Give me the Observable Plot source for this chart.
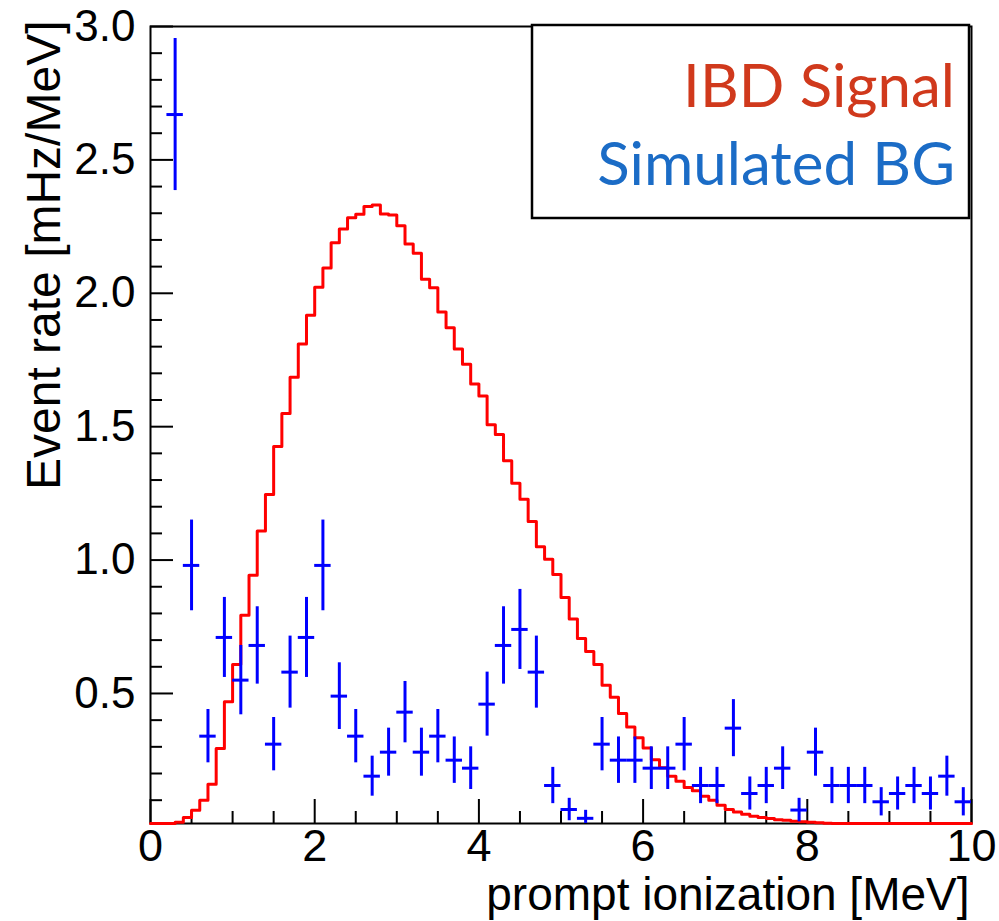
<!DOCTYPE html>
<html><head><meta charset="utf-8">
<script src="https://cdn.jsdelivr.net/npm/d3@7"></script>
<script src="https://cdn.jsdelivr.net/npm/@observablehq/plot@0.6"></script>
<style>
html,body{margin:0;padding:0;background:#fff;}
#chart{position:relative;width:999px;height:921px;}
</style></head><body><div id="chart"></div>
<script>
// ---- data ----
const signalBinWidth = 0.1; // MeV
const signalRate = [
  0.002, 0.004, 0.008, 0.017, 0.035, 0.062, 0.100, 0.160, 0.294, 0.469,
  0.609, 0.793, 0.943, 1.109, 1.246, 1.426, 1.549, 1.685, 1.810, 1.918,
  2.023, 2.095, 2.189, 2.241, 2.283, 2.296, 2.325, 2.331, 2.297, 2.293,
  2.253, 2.185, 2.150, 2.053, 2.021, 1.930, 1.871, 1.791, 1.734, 1.660,
  1.615, 1.507, 1.471, 1.372, 1.288, 1.228, 1.145, 1.050, 1.003, 0.946,
  0.860, 0.779, 0.706, 0.657, 0.609, 0.531, 0.486, 0.425, 0.374, 0.334,
  0.296, 0.252, 0.222, 0.190, 0.171, 0.148, 0.135, 0.115, 0.100, 0.081,
  0.065, 0.056, 0.047, 0.040, 0.035, 0.031, 0.027, 0.025, 0.021, 0.019,
  0.017, 0.015, 0.014, 0.012, 0.011, 0.010, 0.009, 0.008, 0.007, 0.006,
  0.005, 0.005, 0.004, 0.004, 0.003, 0.003, 0.002, 0.002, 0.002, 0.001
];
const bgHalfWidth = 0.1; // MeV
const bgEnergy = [
  0.3, 0.5, 0.7, 0.9, 1.1, 1.3, 1.5, 1.7, 1.9, 2.1,
  2.3, 2.5, 2.7, 2.9, 3.1, 3.3, 3.5, 3.7, 3.9, 4.1,
  4.3, 4.5, 4.7, 4.9, 5.1, 5.3, 5.5, 5.7, 5.9, 6.1,
  6.3, 6.5, 6.7, 6.9, 7.1, 7.3, 7.5, 7.7, 7.9, 8.1,
  8.3, 8.5, 8.7, 8.9, 9.1, 9.3, 9.5, 9.7, 9.9
];
const bgRate = [
  2.67, 0.98, 0.34, 0.71, 0.55, 0.68, 0.31, 0.58, 0.71, 0.98,
  0.49, 0.34, 0.19, 0.28, 0.43, 0.28, 0.34, 0.25, 0.22, 0.46,
  0.68, 0.74, 0.58, 0.155, 0.065, 0.032, 0.31, 0.25, 0.25, 0.22,
  0.22, 0.31, 0.155, 0.155, 0.37, 0.125, 0.155, 0.22, 0.063, 0.28,
  0.155, 0.155, 0.155, 0.094, 0.125, 0.155, 0.125, 0.19, 0.094
];
const bgError = [
  0.285, 0.17, 0.10, 0.15, 0.13, 0.145, 0.10, 0.135, 0.15, 0.17,
  0.125, 0.10, 0.075, 0.09, 0.115, 0.09, 0.10, 0.087, 0.08, 0.12,
  0.145, 0.15, 0.135, 0.068, 0.042, 0.03, 0.10, 0.087, 0.087, 0.08,
  0.08, 0.10, 0.068, 0.068, 0.107, 0.062, 0.068, 0.08, 0.044, 0.09,
  0.068, 0.068, 0.068, 0.053, 0.062, 0.068, 0.062, 0.075, 0.053
];
const xTickValues = [0, 2, 4, 6, 8, 10];
const yTickValues = [0.5, 1.0, 1.5, 2.0, 2.5, 3.0];
const legendLabels = ["IBD Signal", "Simulated BG"];
const xTitle = "prompt ionization [MeV]";
const yTitle = "Event rate [mHz/MeV]";

// ---- layout ----
const W = 999, H = 921, mL = 150, mT = 26, mR = 28, mB = 98;
const plotW = W - mL - mR, plotH = H - mT - mB;
const axisFont = "'Liberation Sans', Arial, Helvetica, sans-serif";

const steps = signalRate.map((v, i) => ({x: i * signalBinWidth, y: v}));
steps.push({x: signalRate.length * signalBinWidth, y: signalRate[signalRate.length - 1]});
const bg = bgEnergy.map((x, i) => ({x, y: bgRate[i], e: bgError[i]}));
const xMinor = d3.range(1, 20).filter(i => i % 4 !== 0).map(i => i / 2);
const yMinor = d3.range(1, 30).filter(i => i % 5 !== 0).map(i => i / 10);

const chart = Plot.plot({
  width: W, height: H,
  marginLeft: mL, marginTop: mT, marginRight: mR, marginBottom: mB,
  style: {fontFamily: axisFont, background: "#fff", color: "#000"},
  x: {domain: [0, 10]},
  y: {domain: [0.0126, 3.0], clamp: true},
  marks: [
    Plot.frame({stroke: "#000", strokeWidth: 2}),
    Plot.tickX(xTickValues, {x: d => d, insetTop: plotH - 24, stroke: "#000", strokeWidth: 2}),
    Plot.tickX(xMinor, {x: d => d, insetTop: plotH - 12, stroke: "#000", strokeWidth: 2}),
    Plot.tickY(yTickValues, {y: d => d, insetRight: plotW - 23, stroke: "#000", strokeWidth: 2}),
    Plot.tickY(yMinor, {y: d => d, insetRight: plotW - 12, stroke: "#000", strokeWidth: 2}),
    Plot.line(steps, {x: "x", y: "y", curve: "step-after", stroke: "#ff0000", strokeWidth: 3}),
    Plot.ruleX(bg, {x: "x", y1: d => d.y - d.e, y2: d => d.y + d.e, stroke: "#0000ff", strokeWidth: 3}),
    Plot.ruleY(bg, {y: "y", x1: d => d.x - bgHalfWidth, x2: d => d.x + bgHalfWidth, stroke: "#0000ff", strokeWidth: 3}),
    Plot.axisX(xTickValues, {tickSize: 0, tickPadding: 6, fontSize: 45, label: null, tickFormat: d3.format("d")}),
    Plot.axisY(yTickValues, {tickSize: 0, tickPadding: 15, fontSize: 44, label: null, tickFormat: d3.format(".1f")}),
    Plot.text([yTitle], {frameAnchor: "top-left", rotate: -90, textAnchor: "end", lineAnchor: "middle", dx: -106, dy: -6, fontSize: 48}),
    Plot.text([xTitle], {frameAnchor: "bottom-right", textAnchor: "end", lineAnchor: "bottom", dx: -2, dy: 86, fontSize: 46})
  ]
});
document.getElementById("chart").appendChild(chart);

// legend box (inside the frame, top-right)
const svg = d3.select(chart);
const lg = svg.append("g").attr("class", "legend");
lg.append("rect").attr("x", 532).attr("y", 25).attr("width", 437).attr("height", 193)
  .attr("fill", "#fff").attr("stroke", "#000").attr("stroke-width", 2.5);
const legendColors = ["#d0391c", "#1b6cc6"];
legendLabels.forEach((t, i) => {
  lg.append("text").attr("x", 955).attr("y", 107 + i * 78)
    .attr("text-anchor", "end").attr("fill", legendColors[i])
    .style("font-family", "Lato, 'Open Sans', sans-serif").style("font-size", "60px")
    .text(t);
});
</script></body></html>
